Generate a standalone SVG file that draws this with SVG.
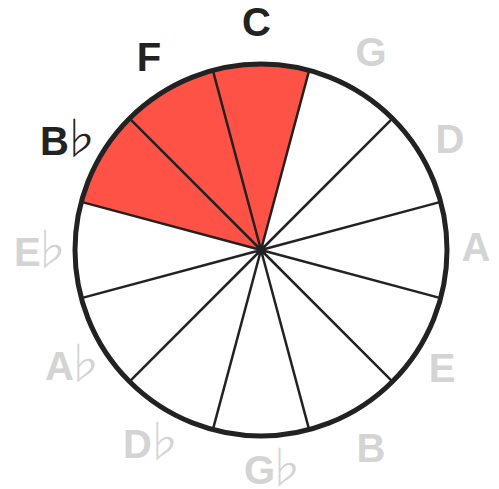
<svg xmlns="http://www.w3.org/2000/svg" width="499" height="489" viewBox="0 0 499 489">
  <style>
    .on { fill: #ff5247; }
    .off { fill: #ffffff; }
    .lbl { font-family: "Liberation Sans", Arial, sans-serif; font-weight: bold; font-size: 40px; text-anchor: middle; }
    .st { text-anchor: start; }
    .act { fill: #222222; }
    .dim { fill: #d4d4d4; }
    .flat { font-family: "Noto Sans CJK JP", "DejaVu Sans", sans-serif; font-weight: 300; font-size: 44px; }
    .spoke { stroke: #222222; stroke-width: 2.5; fill: none; }
  </style>
  <rect width="499" height="489" fill="#ffffff"/>
  <g id="node-C">
    <path class="on" d="M261 250 L212.86 70.34 A186 186 0 0 1 309.14 70.34 Z"/>
    <text class="lbl act" x="256.5" y="36">C</text>
  </g>
  <g id="node-G">
    <path class="off" d="M261 250 L309.14 70.34 A186 186 0 0 1 392.52 118.48 Z"/>
    <text class="lbl dim" x="371" y="66">G</text>
  </g>
  <g id="node-D">
    <path class="off" d="M261 250 L392.52 118.48 A186 186 0 0 1 440.66 201.86 Z"/>
    <text class="lbl dim" x="450" y="153">D</text>
  </g>
  <g id="node-A">
    <path class="off" d="M261 250 L440.66 201.86 A186 186 0 0 1 440.66 298.14 Z"/>
    <text class="lbl dim" x="476" y="261">A</text>
  </g>
  <g id="node-E">
    <path class="off" d="M261 250 L440.66 298.14 A186 186 0 0 1 392.52 381.52 Z"/>
    <text class="lbl dim" x="442" y="382">E</text>
  </g>
  <g id="node-B">
    <path class="off" d="M261 250 L392.52 381.52 A186 186 0 0 1 309.14 429.66 Z"/>
    <text class="lbl dim" x="371" y="462">B</text>
  </g>
  <g id="node-Gb">
    <path class="off" d="M261 250 L309.14 429.66 A186 186 0 0 1 212.86 429.66 Z"/>
    <text class="lbl st dim" x="244" y="484">G<tspan class="flat" dx="-12">♭</tspan></text>
  </g>
  <g id="node-Db">
    <path class="off" d="M261 250 L212.86 429.66 A186 186 0 0 1 129.48 381.52 Z"/>
    <text class="lbl st dim" x="123" y="458">D<tspan class="flat" dx="-11">♭</tspan></text>
  </g>
  <g id="node-Ab">
    <path class="off" d="M261 250 L129.48 381.52 A186 186 0 0 1 81.34 298.14 Z"/>
    <text class="lbl st dim" x="45" y="380">A<tspan class="flat" dx="-12">♭</tspan></text>
  </g>
  <g id="node-Eb">
    <path class="off" d="M261 250 L81.34 298.14 A186 186 0 0 1 81.34 201.86 Z"/>
    <text class="lbl st dim" x="14" y="266">E<tspan class="flat" dx="-12">♭</tspan></text>
  </g>
  <g id="node-Bb">
    <path class="on" d="M261 250 L81.34 201.86 A186 186 0 0 1 129.48 118.48 Z"/>
    <text class="lbl st act" x="40" y="155">B<tspan class="flat" dx="-11">♭</tspan></text>
  </g>
  <g id="node-F">
    <path class="on" d="M261 250 L129.48 118.48 A186 186 0 0 1 212.86 70.34 Z"/>
    <text class="lbl act" x="149" y="71">F</text>
  </g>
  <g id="connectors">
    <path class="spoke" d="M261 250 L309.14 70.34 M261 250 L392.52 118.48 M261 250 L440.66 201.86 M261 250 L440.66 298.14 M261 250 L392.52 381.52 M261 250 L309.14 429.66 M261 250 L212.86 429.66 M261 250 L129.48 381.52 M261 250 L81.34 298.14 M261 250 L81.34 201.86 M261 250 L129.48 118.48 M261 250 L212.86 70.34"/>
    <circle cx="261" cy="250" r="186" fill="none" stroke="#222222" stroke-width="5"/>
  </g>
</svg>
